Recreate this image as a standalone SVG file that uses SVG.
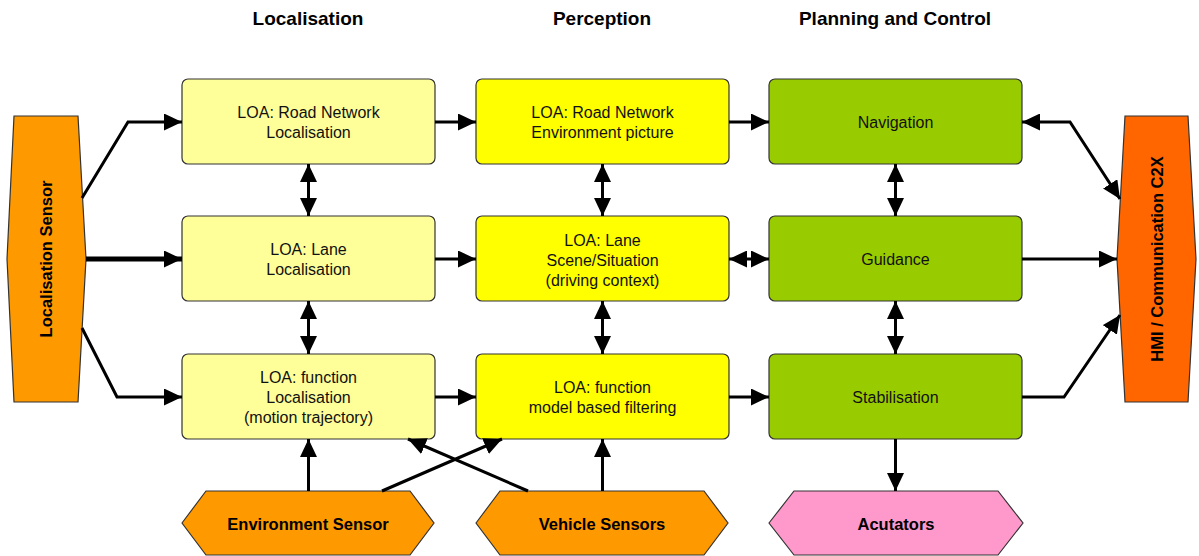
<svg xmlns="http://www.w3.org/2000/svg" width="1199" height="556" viewBox="0 0 1199 556">
<style>
  .title{font-family:"Liberation Sans",Arial,sans-serif;font-size:19px;font-weight:bold;fill:#000;text-anchor:middle}
  .t{font-family:"Liberation Sans",Arial,sans-serif;font-size:16px;fill:#111;text-anchor:middle}
  .tb{font-family:"Liberation Sans",Arial,sans-serif;font-size:16.5px;font-weight:bold;fill:#000;text-anchor:middle}
  .box{stroke:#333;stroke-width:1.2}
  .c1{fill:#FFFF99}.c2{fill:#FFFF00}.c3{fill:#99CC00}
  .sens{fill:#FF9900;stroke:#333;stroke-width:1.2}
  .hmi{fill:#FF6600;stroke:#333;stroke-width:1.2}
  .act{fill:#FF99CC;stroke:#333;stroke-width:1.2}
  .ln{fill:none;stroke:#000;stroke-width:3}
  .one{marker-end:url(#ah)}
  .two{marker-start:url(#ah);marker-end:url(#ah)}
</style>
<defs>
  <marker id="ah" markerUnits="userSpaceOnUse" markerWidth="18" markerHeight="17" refX="18" refY="8.5" orient="auto-start-reverse" viewBox="0 0 18 17">
    <path d="M0,0 L18,8.5 L0,17 z" fill="#000"/>
  </marker>
</defs>

<g id="titles">
  <text class="title" x="308" y="25">Localisation</text>
  <text class="title" x="602" y="25">Perception</text>
  <text class="title" x="895" y="25">Planning and Control</text>
</g>

<g id="loc-sensor">
  <polygon class="sens" points="14,116 78,116 86,259 78,402 14,402 7,259"/>
  <text class="tb" transform="translate(52,259) rotate(-90)">Localisation Sensor</text>
</g>
<g id="hmi">
  <polygon class="hmi" points="1125,116 1188,116 1196,259 1188,402 1125,402 1117,259"/>
  <text class="tb" transform="translate(1163,259) rotate(-90)">HMI / Communication C2X</text>
</g>

<g id="loc-road">
  <rect class="box c1" x="182" y="79" width="253" height="85" rx="6"/>
  <text class="t" x="308.5" y="118">LOA: Road Network</text>
  <text class="t" x="308.5" y="138">Localisation</text>
</g>
<g id="loc-lane">
  <rect class="box c1" x="182" y="216" width="253" height="85" rx="6"/>
  <text class="t" x="308.5" y="255">LOA: Lane</text>
  <text class="t" x="308.5" y="275">Localisation</text>
</g>
<g id="loc-func">
  <rect class="box c1" x="182" y="354" width="253" height="85" rx="6"/>
  <text class="t" x="308.5" y="383">LOA: function</text>
  <text class="t" x="308.5" y="403">Localisation</text>
  <text class="t" x="308.5" y="423">(motion trajectory)</text>
</g>

<g id="per-road">
  <rect class="box c2" x="476" y="79" width="253" height="85" rx="6"/>
  <text class="t" x="602.5" y="118">LOA: Road Network</text>
  <text class="t" x="602.5" y="138">Environment picture</text>
</g>
<g id="per-lane">
  <rect class="box c2" x="476" y="216" width="253" height="85" rx="6"/>
  <text class="t" x="602.5" y="246">LOA: Lane</text>
  <text class="t" x="602.5" y="266">Scene/Situation</text>
  <text class="t" x="602.5" y="286">(driving context)</text>
</g>
<g id="per-func">
  <rect class="box c2" x="476" y="354" width="253" height="85" rx="6"/>
  <text class="t" x="602.5" y="393">LOA: function</text>
  <text class="t" x="602.5" y="413">model based filtering</text>
</g>

<g id="navigation">
  <rect class="box c3" x="769" y="79" width="253" height="85" rx="6"/>
  <text class="t" x="895.5" y="128">Navigation</text>
</g>
<g id="guidance">
  <rect class="box c3" x="769" y="216" width="253" height="85" rx="6"/>
  <text class="t" x="895.5" y="265">Guidance</text>
</g>
<g id="stabilisation">
  <rect class="box c3" x="769" y="354" width="253" height="85" rx="6"/>
  <text class="t" x="895.5" y="403">Stabilisation</text>
</g>

<g id="env-sensor">
  <polygon class="sens" points="182,523 206,491 410,491 434,523 410,555 206,555"/>
  <text class="tb" x="308" y="530">Environment Sensor</text>
</g>
<g id="veh-sensor">
  <polygon class="sens" points="476,523 500,491 704,491 728,523 704,555 500,555"/>
  <text class="tb" x="602" y="530">Vehicle Sensors</text>
</g>
<g id="actuators">
  <polygon class="act" points="769,523 794,491 998,491 1023,523 998,555 794,555"/>
  <text class="tb" x="896" y="530">Acutators</text>
</g>

<g id="connectors">
  <path class="ln one" d="M82,198 L128,122 L182,122"/>
  <path class="ln one" d="M86,259 L182,259" style="stroke-width:5"/>
  <path class="ln one" d="M82,328 L117,397 L182,397"/>

  <path class="ln one" d="M435,122 L476,122"/>
  <path class="ln one" d="M435,259 L476,259"/>
  <path class="ln one" d="M435,397 L476,397"/>

  <path class="ln one" d="M729,122 L769,122"/>
  <path class="ln two" d="M729,259 L769,259"/>
  <path class="ln one" d="M729,397 L769,397"/>

  <path class="ln two" d="M308.5,164 L308.5,216"/>
  <path class="ln two" d="M308.5,301 L308.5,354"/>
  <path class="ln two" d="M602.5,164 L602.5,216"/>
  <path class="ln two" d="M602.5,301 L602.5,354"/>
  <path class="ln two" d="M895.5,164 L895.5,216"/>
  <path class="ln two" d="M895.5,301 L895.5,354"/>

  <path class="ln two" d="M1022,122 L1070,122 L1120,199"/>
  <path class="ln one" d="M1022,259 L1117,259"/>
  <path class="ln one" d="M1022,397 L1064,397 L1120,315"/>

  <path class="ln one" d="M308.5,491 L308.5,439"/>
  <path class="ln one" d="M602.5,491 L602.5,439"/>
  <path class="ln one" d="M382,491 L502,439"/>
  <path class="ln one" d="M528,491 L408,439"/>
  <path class="ln one" d="M895.5,439 L895.5,491"/>
</g>
</svg>
